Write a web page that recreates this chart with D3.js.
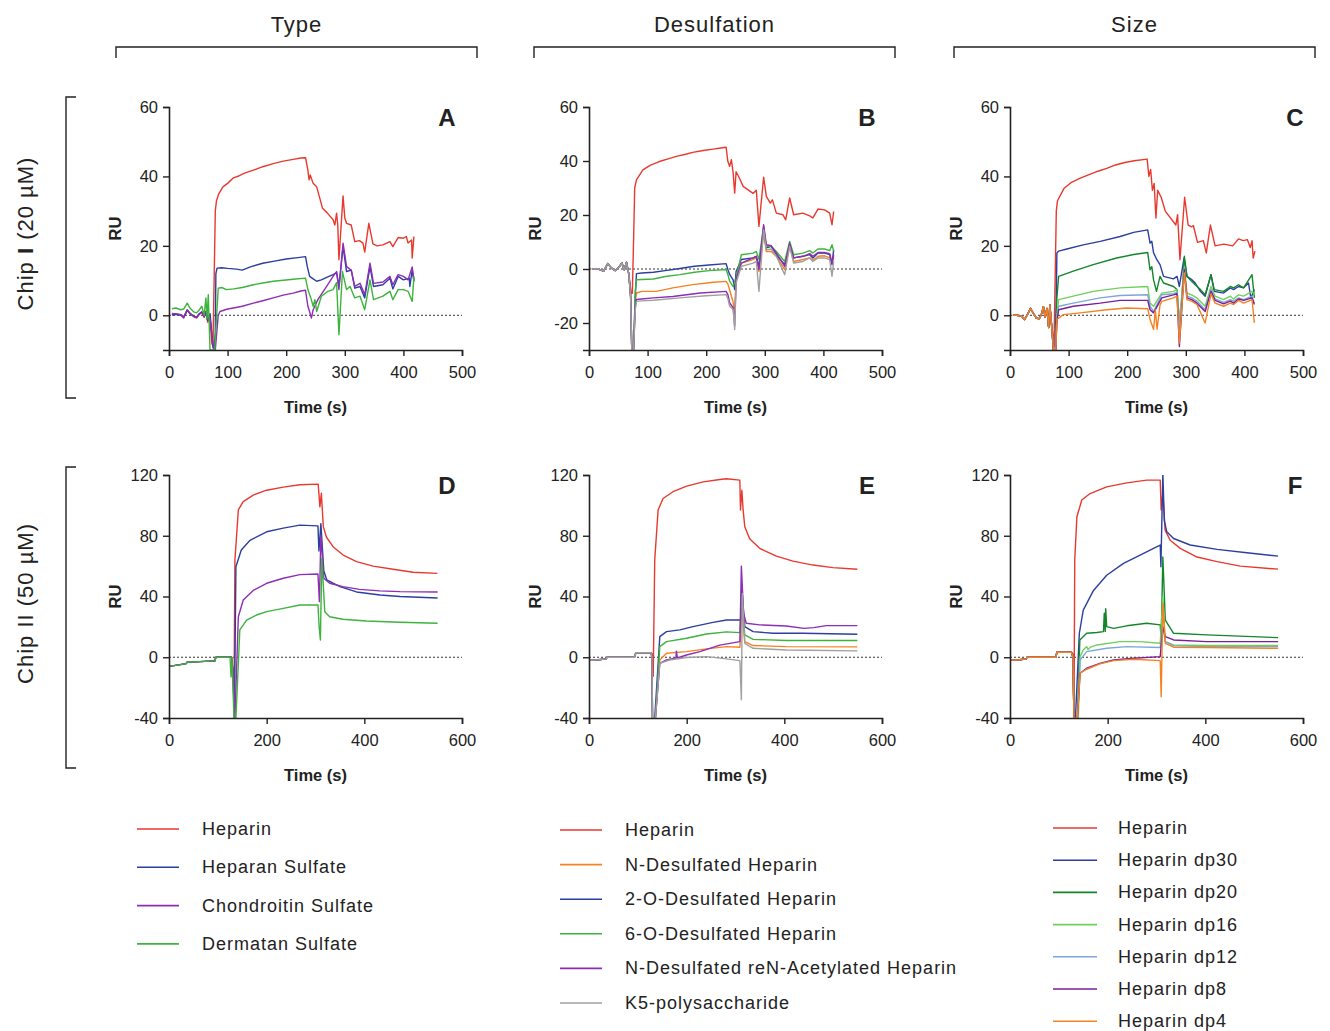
<!DOCTYPE html>
<html>
<head>
<meta charset="utf-8">
<script src="https://cdn.jsdelivr.net/npm/d3@7"></script>
<style>
  body { margin: 0; background: #fff; }
  text { font-family: Arial, "Liberation Sans", sans-serif; fill: #222; }
</style>
</head>
<body>
<svg id="chart" width="1330" height="1031"></svg>
<script>
// ---- legend names / colours ----
var typeNames = ["Heparin", "Heparan Sulfate", "Chondroitin Sulfate", "Dermatan Sulfate"];
var typeColors = ["#e8392f", "#2b3f9e", "#8e2db5", "#3cb43c"];
var desulfNames = ["Heparin", "N-Desulfated Heparin", "2-O-Desulfated Heparin", "6-O-Desulfated Heparin",
                   "N-Desulfated reN-Acetylated Heparin", "K5-polysaccharide"];
var desulfColors = ["#e8392f", "#f58220", "#2b3f9e", "#3cb43c", "#8e2db5", "#a0a0a0"];
var sizeNames = ["Heparin", "Heparin dp30", "Heparin dp20", "Heparin dp16", "Heparin dp12", "Heparin dp8", "Heparin dp4"];
var sizeColors = ["#e8392f", "#2b3f9e", "#14862a", "#6fd15a", "#7fa6d8", "#7a1e9c", "#f58220"];

// ---- tick labels ----
var xTicksTop = [0, 100, 200, 300, 400, 500];
var xTicksBottom = [0, 200, 400, 600];
var yTicksA = [0, 20, 40, 60];
var yTicksB = [-20, 0, 20, 40, 60];
var yTicksD = [-40, 0, 40, 80, 120];

// ---- Chip I, Type (A) : [time s, RU] ----
var A_hep = [[5,0.3],[12,0.4],[20,0.2],[25,-0.6],[31,1.6],[36,0.4],[42,-0.2],[47,-0.8],[52,0.4],[56,0.9],[60,-0.6],[63,1.2],[66,-2],[70,-0.8],[73,-8],[75,-9],[77,10],[79,30],[81,33],[85,35],[92,37],[100,38],[110,39.6],[120,40.2],[130,41],[144,41.8],[160,42.8],[178,43.7],[195,44.4],[212,44.9],[225,45.3],[233,45.4],[237,41.8],[239,39],[241,40.4],[246,38],[252,37],[262,30.8],[270,29.5],[280,27.5],[283,26],[286,29.4],[288,26],[290,16],[297,34.4],[300,28],[303,26.5],[311,26],[317,21.2],[325,21.5],[331,20.8],[334,18.2],[341,26.5],[348,20.6],[355,20],[365,20.3],[377,21.2],[382,19.8],[391,22.4],[400,22.2],[405,22.7],[408,20.8],[414,21.7],[415,16.5],[418,22.7]];
var A_hs = [[5,0.1],[12,0.3],[20,0],[25,-0.5],[31,1.5],[36,0.6],[42,-0.3],[47,-0.6],[52,0.5],[56,1],[60,-0.4],[63,1],[66,-1.5],[70,0.5],[72,-3],[75,-9],[77,-10],[79,-5],[80,12],[82,13.6],[90,13.7],[100,13.5],[115,13.3],[125,13],[140,14],[160,15],[180,15.6],[200,16.2],[220,16.6],[233,16.9],[236,14],[240,11.2],[246,10.5],[252,9.8],[260,10.2],[270,11],[280,11.7],[286,12.3],[290,8.3],[297,19.8],[303,12.6],[311,13],[317,7.8],[326,8.3],[334,5],[343,14],[349,8.3],[365,8.8],[377,10.7],[382,7.6],[391,11.2],[400,10.2],[410,10.7],[411,8.3],[415,13],[418,9.8]];
var A_cs = [[5,0.5],[12,0.4],[20,0.2],[25,-0.8],[31,1.4],[36,0.5],[42,-0.4],[47,-0.5],[52,0.3],[56,0.8],[60,-0.3],[63,1],[66,-0.5],[70,-1],[72,-4],[76,-10],[79,-10],[82,-4],[84,0],[87,1.1],[100,1.8],[110,2.1],[125,2.6],[144,3.5],[160,4.2],[178,5],[195,5.8],[212,6.4],[225,7],[233,7.2],[237,2.6],[240,1],[243,-0.8],[246,1.6],[254,4.5],[269,8.3],[280,11.2],[286,12.6],[290,7.4],[297,20.8],[303,14],[311,13],[317,8.3],[326,9.2],[334,5.9],[343,15],[349,9.2],[365,9.6],[377,11.2],[382,8.8],[391,11.7],[400,11.2],[408,10.2],[415,13.9],[418,10.2]];
var A_ds = [[5,1.9],[12,2.1],[20,1.6],[25,1.8],[31,3.5],[36,2],[42,1],[47,0.7],[52,1.6],[56,2.6],[60,0],[63,5],[65,-1],[67,5.9],[70,-10],[78,-10],[82,2],[84,7.8],[90,8],[98,7.4],[110,7.6],[125,8],[144,8.8],[160,9.3],[178,9.8],[195,10.1],[212,10.4],[233,10.7],[237,7.4],[242,5],[246,2.6],[249,4.5],[252,1.1],[260,5.5],[270,6.8],[280,7.4],[286,9.4],[290,-5.6],[296,12.6],[303,7.4],[309,8.3],[317,5],[326,5.5],[334,1.6],[343,10.2],[349,4.5],[365,5.5],[377,6.9],[382,4.5],[391,7.4],[400,7.4],[408,6.9],[415,4],[418,11.2]];

// ---- Chip I, Desulfation (B) ----
var B_base = [[5,0],[15,0.1],[25,-0.8],[32,2],[38,0.4],[45,-0.6],[52,0.9],[56,2.3],[60,-0.3],[64,2.5],[68,-2]];
var B_hep = B_base.concat([[72,-9],[74,-9],[76,10],[78,30],[81,33],[92,36.7],[105,38.5],[120,39.8],[135,40.8],[149,41.7],[165,42.5],[177,43.2],[195,43.9],[212,44.4],[225,44.8],[234,45.1],[237,39.8],[240,38],[243,40.5],[246,35.5],[248.6,28.1],[251,36],[257,33.5],[263,30.6],[280,28],[285.5,29.2],[290,15.8],[298,34],[302.6,26.9],[309.4,24.4],[313,25.6],[319.7,20.7],[331,20.1],[335.6,18.2],[342.4,26.3],[349.3,20.1],[365,20.7],[376.6,19.7],[382,18.9],[390.8,22.2],[402,21.9],[410.7,20.7],[414.7,16.4],[417.5,21.3]]);
var B_nd = B_base.concat([[71,-10],[73,-30],[76,-30],[79,-12],[81,-8.9],[90,-8.3],[115,-8.3],[143,-7],[177,-5.8],[212,-4.9],[234,-4.6],[237,-5.5],[240,-7.8],[246,-12.3],[248.6,-17.5],[251,-2.7],[260,2.2],[280,3.5],[285.5,4.1],[290,-0.9],[298,13.3],[302.6,6.5],[311,6.5],[319.7,4.7],[334,-0.2],[342.4,8.4],[349.3,2.8],[365,3.5],[376.6,4.1],[382,3.2],[390.8,4.7],[402,4.9],[410.7,4.1],[414.7,2.2],[417.5,4.7]]);
var B_2o = B_base.concat([[71,-10],[73,-30],[76,-30],[79,-10],[81,-1.7],[90,-1.5],[110,-1.2],[130,-0.6],[155,0.2],[180,1],[205,1.5],[234,2],[237,-0.2],[240,-2],[246,-4],[248.6,-7.6],[251,-0.9],[260,3.5],[280,4.1],[285.5,4.7],[290,1],[298,14.5],[302.6,7.8],[311,8.4],[319.7,5.3],[334,1.6],[342.4,9],[349.3,4.1],[365,4.7],[376.6,5.3],[382,4.1],[390.8,5.9],[402,5.9],[410.7,5.3],[414.7,1.6],[417.5,7.1]]);
var B_6o = B_base.concat([[71,-10],[73,-30],[76,-30],[79,-8],[81,-4],[90,-3.9],[110,-3.7],[130,-2.8],[155,-2.1],[180,-1.2],[205,-0.6],[234,-0.2],[237,-2],[240,-4.5],[246,-6.5],[251,-3.3],[260,5.3],[280,5.9],[285.5,6.5],[290,3.5],[298,15.8],[302.6,8.4],[311,8.4],[319.7,6.5],[334,2.8],[342.4,10.2],[349.3,5.3],[365,5.9],[376.6,6.8],[382,5.9],[390.8,7.4],[402,7.4],[410.7,6.8],[414.7,9],[417.5,6.5]]);
var B_rna = B_base.concat([[71,-10],[73,-30],[76,-30],[79,-14],[81,-11.3],[90,-11.1],[110,-10.7],[143,-10.2],[190,-8.9],[234,-8.3],[237,-9.5],[240,-12.5],[246,-14.4],[248.6,-21],[251,-3.9],[260,2.2],[280,4.1],[285.5,4.7],[290,-0.2],[298,16.4],[302.6,9],[311,8.6],[319.7,5.9],[334,1],[342.4,9.6],[349.3,4.1],[365,4.7],[376.6,5.7],[382,4.7],[390.8,6.1],[402,6.1],[410.7,5.7],[414.7,2.2],[417.5,5.3]]);
var B_k5 = B_base.concat([[71,-10],[73,-30],[76,-30],[79,-15],[81,-12],[90,-11.8],[110,-11.6],[155,-10.7],[200,-9.9],[234,-9.5],[237,-11],[240,-13.8],[246,-15],[248.6,-22.4],[251,-5.2],[260,1],[280,2.2],[285.5,2.8],[290,-8.3],[298,14.5],[302.6,7.1],[311,7.4],[319.7,4.7],[334,-2.1],[342.4,8.4],[349.3,2.2],[365,2.8],[376.6,4.1],[382,2.8],[390.8,4.1],[402,4.1],[410.7,3.5],[414.7,-2.7],[417.5,2.8]]);

// ---- Chip I, Size (C) ----
var C_base = [[5,0],[12,0],[20,-0.3],[25,-1.2],[30,0.3],[35,2],[40,0.5],[45,-0.8],[50,-1],[54,0.5],[57,2.5],[60,-0.5],[63,2],[66,-3.5],[68,3],[70,-1]];
var C_hep = C_base.concat([[72,-4],[75,-9],[77,10],[79,30],[81,33],[92,36.5],[105,38.3],[120,39.5],[135,40.5],[150,41.5],[165,42.3],[180,43.3],[196,44],[212,44.5],[234,45],[237,40],[240,42],[243,36],[246,38],[249,28],[252,36],[258,34],[265,30],[283,26],[286,29],[290,16],[298,34],[304,26],[310,25.5],[313,25.8],[320,21],[330,21.5],[335,18],[342,26],[350,20],[365,20.5],[380,20],[390,22],[398,21.5],[405,21.8],[410,19.5],[413,21.5],[415,16.5],[418,18.5]]);
var C_dp30 = C_base.concat([[72,-5],[74,-10],[77,-10],[79,5],[80,17.9],[83,18.5],[97,19.1],[125,20.3],[154,21.3],[188,22.7],[211,23.9],[235,24.6],[239,20.8],[242,21.3],[245,18],[250.6,16],[256,14.6],[262,11.2],[279,10.5],[285,11.2],[289,8.3],[297,16.5],[302,11.2],[310,10.3],[316,9.3],[325,6.9],[333,5.5],[343,11.7],[348.5,6.9],[364.5,6.4],[376,7.9],[381.5,7.4],[390,8.3],[398.6,7.9],[407,9.3],[411,5],[417,7.4]]);
var C_dp20 = C_base.concat([[72,-5],[74,-10],[78,-10],[80,5],[83,11.2],[108,12.7],[142,14.6],[182,16.5],[211,17.5],[235,18.1],[239,13.1],[242,14],[245,10.2],[250,6.9],[256,11.2],[262,9.3],[279,8.3],[285,7.4],[290,-4],[297.5,17],[302,11.2],[310,9.8],[316,8.8],[325,7.4],[333,5.9],[343,11.7],[348.5,7.4],[364.5,6.9],[376,8.3],[381.5,7.9],[390,8.8],[398.6,7.9],[413,11.7],[417,5]]);
var C_dp16 = C_base.concat([[72,-5],[74,-10],[78,-10],[80,0],[83,4.5],[108,5.5],[142,6.9],[188,7.9],[235,8.3],[239,3.5],[245,2.6],[259,6.4],[279,6.9],[285,7.4],[289,-2.2],[297.5,14],[302,6.4],[310,5.9],[319,5],[333,2.6],[343,8.3],[350,5.5],[364.5,4.5],[376,5.5],[381.5,4.7],[390,5.9],[398.6,5.5],[413,6.9],[417,5.9]]);
var C_dp12 = C_base.concat([[72,-5],[74,-10],[78,-10],[80,-1],[83,2.6],[108,3.5],[154,5],[188,5.7],[235,5.9],[239,2.6],[245,1.1],[259,5.9],[279,6.2],[285,6.6],[289,-4.1],[297.5,13.1],[302,5.5],[310,5],[319,4.1],[333,1.6],[343,7.4],[350,4.7],[364.5,3.7],[376,4.5],[381.5,4.1],[390,5],[398.6,4.5],[413,5.5],[417,3.5]]);
var C_dp8 = C_base.concat([[72,-5],[74,-10],[78,-10],[80,-2],[83,1.6],[108,2.6],[154,3.5],[188,4.3],[235,4.3],[239,1.6],[245,0.7],[259,5],[279,5.9],[285,6.2],[289,-9],[297.5,13.1],[302,5],[310,4.5],[319,3.5],[333,1.1],[343,6.9],[350,4.3],[364.5,3.3],[376,4.1],[381.5,3.5],[390,4.7],[398.6,4.3],[413,5],[417,3.1]]);
var C_dp4 = C_base.concat([[72,-5],[74,-10],[78,-10],[80,-1.2],[91,0.2],[120,0.7],[165,1.6],[199,2.1],[235,1.9],[239,-1.2],[245,-4.1],[248,1.6],[251,-4],[256,3],[259,4],[279,5],[285,5.5],[289,-8],[297.5,12.2],[302,4.5],[310,4.1],[319,3.1],[333,-2.2],[343,6.2],[350,3.5],[364.5,2.6],[376,3.5],[381.5,3.1],[390,4.3],[398.6,3.5],[413,4.5],[417,-2.2]]);

// ---- Chip II, Type (D) ----
var D_base = [[0,-6],[10,-5.5],[20,-5],[35,-4.2],[37,-3.3],[63,-2.9],[94,-2.4],[96,0],[123,0]];
var D_hep = D_base.concat([[128,0],[131,-10],[133,-32],[135,64],[142,97],[152,102.5],[172.5,106.8],[200,110],[234,112],[268,113.6],[305.5,114],[309,99],[312,108],[316,86],[322.5,79],[336,72.8],[356.6,67.3],[384,63],[418,60],[459,57.9],[500,56],[549.5,55.2]]);
var D_hs = D_base.concat([[128,0],[131,-10],[134,-40],[137,59.6],[148,70.6],[166,77],[200,82.6],[234,85],[268,87],[305,86.5],[307,70],[311,88],[317,57],[323,51],[350,46.5],[384,43],[432,41],[473,40],[550,39]]);
var D_cs = D_base.concat([[128,0],[132,-10],[135,-40],[142,26.7],[152,37.7],[172.5,44],[200,48.7],[234,52],[268,54.4],[305,54.8],[308,36.6],[311,80],[317,52],[329,48.7],[356,46.5],[390,44.7],[432,43.7],[473,43.2],[550,43]]);
var D_ds = D_base.concat([[125,0],[127,-13],[129,0],[133,-40],[137,-40],[145,18],[159,24.5],[179,27.8],[200,30],[234,32.2],[268,34.4],[305,34.4],[307.5,20],[310,11.4],[313,65],[319,30],[329,26.7],[356,25],[404,23.9],[473,23],[550,22.4]]);

// ---- Chip II, Desulfation (E) ----
var E_base = [[0,-2],[20,-1.6],[35,-1.1],[37,0],[93,0],[96,3],[127,3]];
var E_hep = E_base.concat([[130,2],[131.5,-12.5],[134.6,64],[141.5,97],[151.7,104.5],[172,109],[200,112.7],[233.8,115.5],[268,117],[281.6,117.5],[308.9,116.6],[310.2,97],[313,110],[315.6,97],[319,86],[329,78],[349.4,71.7],[383.6,66.6],[417.7,63.3],[458.7,60.7],[499.7,59],[549.5,57.9]]);
var E_nd = E_base.concat([[129,0],[130,-40],[136,-40],[145,-1.8],[158.7,2.6],[199.6,3.7],[240.5,5.5],[281.6,7],[309,6.6],[313,30],[319,10.3],[336,7.7],[404,7],[549.5,6.8]]);
var E_2o = E_base.concat([[129,0],[130,-40],[134.6,-40],[145,13.6],[158.7,16.9],[186,18],[213,20.2],[254,23],[281.6,24.5],[309,24.5],[311,25],[313,45],[319,20.2],[336,16.9],[377,15.8],[438,15.8],[549.5,15.1]]);
var E_6o = E_base.concat([[129,0],[130,-40],[136,-40],[145,7],[158.7,10.3],[199.6,12.5],[240.5,15.3],[281.6,16.7],[309,16.2],[313,40],[319,14.7],[336,11.8],[404,11],[549.5,11]]);
var E_rna = E_base.concat([[129,0],[130,-40],[136,-40],[145,-4],[158.7,-1.8],[178,-0.5],[179,4],[181,-0.5],[199.6,1.5],[227,3.7],[268,8],[309,10.3],[312,60],[316.5,29],[322,22.4],[349.4,21.3],[404,20.6],[440,19],[460,19.5],[486,20.8],[549.5,20.8]]);
var E_k5 = E_base.concat([[129,0],[130,-40],[136,-40],[145,-4],[165,-1.8],[199.6,-0.2],[240.5,0.4],[281.6,-1.1],[309,-2.2],[312,-28],[314,42],[319,9.2],[336,5.9],[404,4.8],[549.5,4.2]]);

// ---- Chip II, Size (F) ----
var F_base = [[0,-2],[20,-1.6],[33,-1.1],[35,0],[94,0],[96,3.3],[126,3.3]];
var F_hep = F_base.concat([[129,2],[131,-40],[132.6,64],[137,92.5],[147,103.5],[164,107.8],[198,112.2],[239,114.8],[280,116.6],[307.6,116.6],[309.6,97],[313,108],[317.7,83.7],[328,77],[348.6,71.7],[383,66],[424,63],[471.6,60],[549,58]]);
var F_dp30 = F_base.concat([[129,0],[131,-40],[134,-40],[142,15.8],[150,31],[171,44],[198,54],[232.4,61.8],[266.5,67.3],[294,71.7],[307.6,73.9],[309,59.6],[313,121],[316,90],[321,82.6],[335,78.2],[369,73.9],[424,71],[485,68.8],[549,66.6]]);
var F_dp20 = F_base.concat([[129,0],[131,-40],[138,-40],[143,11.4],[157,15.8],[177.7,16.3],[191.4,16.9],[193,29],[195,16.9],[196,32],[198,20.2],[212,19],[239,20.7],[280,22.4],[307.6,21.3],[309.6,11.4],[313,66],[318,24.5],[335,15.8],[403,14.7],[549,12.9]]);
var F_dp16 = F_base.concat([[129,0],[131,-40],[140,-40],[143.5,0.4],[150,4.8],[157,7],[160,5],[164,6.5],[177.7,8.1],[225,10.3],[266.5,10.3],[307.6,9.2],[313,40],[318,10.3],[335,8.1],[403,7.7],[549,7.7]]);
var F_dp12 = F_base.concat([[129,0],[131,-40],[138,-40],[143.5,-1.8],[157,3.7],[198,5.9],[239,7],[307.6,6.4],[313,20],[318,10.3],[335,7.5],[403,7],[549,7]]);
var F_dp8 = F_base.concat([[129,0],[131,-40],[138,-40],[143.5,-10.5],[157,-7.2],[184,-4],[212,-1.8],[253,-0.7],[307.6,0.4],[313,20],[318,13.6],[335,11.4],[403,10.3],[549,10.3]]);
var F_dp4 = F_base.concat([[129,0],[131,-40],[138,-40],[143.5,-10.5],[157,-7.9],[184,-4.4],[212,-2.2],[253,-1.3],[307.6,-2.2],[309.6,-26],[313,35.5],[318,9.2],[335,6.6],[403,6.4],[549,5.9]]);

var panels = [
  { letter: "A", col: 0, row: 0, xMax: 500, xTicks: xTicksTop, yDomain: [-10, 60], yTicks: yTicksA, colors: typeColors, series: [A_hep, A_hs, A_cs, A_ds] },
  { letter: "B", col: 1, row: 0, xMax: 500, xTicks: xTicksTop, yDomain: [-30, 60], yTicks: yTicksB, colors: desulfColors, series: [B_hep, B_nd, B_2o, B_6o, B_rna, B_k5] },
  { letter: "C", col: 2, row: 0, xMax: 500, xTicks: xTicksTop, yDomain: [-10, 60], yTicks: yTicksA, colors: sizeColors, series: [C_hep, C_dp30, C_dp20, C_dp16, C_dp12, C_dp8, C_dp4] },
  { letter: "D", col: 0, row: 1, xMax: 600, xTicks: xTicksBottom, yDomain: [-40, 120], yTicks: yTicksD, colors: typeColors, series: [D_hep, D_hs, D_cs, D_ds] },
  { letter: "E", col: 1, row: 1, xMax: 600, xTicks: xTicksBottom, yDomain: [-40, 120], yTicks: yTicksD, colors: desulfColors, series: [E_hep, E_nd, E_2o, E_6o, E_rna, E_k5] },
  { letter: "F", col: 2, row: 1, xMax: 600, xTicks: xTicksBottom, yDomain: [-40, 120], yTicks: yTicksD, colors: sizeColors, series: [F_hep, F_dp30, F_dp20, F_dp16, F_dp12, F_dp8, F_dp4] }
];

// layout
var colX = [169, 589, 1010];
var rowY = [107, 475];
var plotW = 293, plotH = 243;

var svg = d3.select("#chart");

panels.forEach(function(p, i) {
  var g = svg.append("g")
      .attr("transform", `translate(${colX[p.col]}, ${rowY[p.row]})`);

  var x = d3.scaleLinear().domain([0, p.xMax]).range([0, plotW]);
  var y = d3.scaleLinear().domain(p.yDomain).range([plotH, 0]);

  // clip so the injection spikes stop at the axis
  svg.append("clipPath").attr("id", "clip" + i)
    .append("rect").attr("x", 0).attr("y", 0).attr("width", plotW).attr("height", plotH);

  // dotted zero line
  g.append("line")
      .attr("x1", 0).attr("x2", plotW)
      .attr("y1", y(0)).attr("y2", y(0))
      .attr("stroke", "#333").attr("stroke-width", 1)
      .attr("stroke-dasharray", "2,2");

  var line = d3.line().x(d => x(d[0])).y(d => y(d[1]));

  var lines = g.append("g").attr("clip-path", `url(#clip${i})`);
  p.series.forEach(function(s, k) {
    lines.append("path")
        .datum(s)
        .attr("d", line)
        .attr("fill", "none")
        .attr("stroke", p.colors[k])
        .attr("stroke-width", 1.4)
        .attr("stroke-linejoin", "round");
  });

  // axes (plain hyphen for negatives, as in the figure)
  var fmt = d => String(d);
  var xAxis = d3.axisBottom(x).tickValues(p.xTicks).tickFormat(fmt).tickSizeOuter(0).tickSize(6).tickPadding(10);
  var yAxis = d3.axisLeft(y).tickValues(p.yTicks).tickFormat(fmt).tickSizeOuter(0).tickSize(6).tickPadding(5);

  var gx = g.append("g").attr("transform", `translate(0, ${plotH})`).call(xAxis);
  var gy = g.append("g").call(yAxis);
  [gx, gy].forEach(function(a) {
    a.select(".domain").attr("stroke", "#222").attr("stroke-width", 1.6);
    a.selectAll(".tick line").attr("stroke", "#222").attr("stroke-width", 1.4);
    a.selectAll(".tick text")
        .style("font-family", "Arial, 'Liberation Sans', sans-serif")
        .style("font-size", "16.5px")
        .attr("fill", "#222");
  });

  // axis titles
  g.append("text")
      .attr("x", plotW / 2).attr("y", plotH + 63)
      .attr("text-anchor", "middle")
      .style("font-size", "16.5px").style("font-weight", "bold")
      .text("Time (s)");

  g.append("text")
      .attr("transform", `translate(-48, ${plotH / 2}) rotate(-90)`)
      .attr("text-anchor", "middle")
      .style("font-size", "16.5px").style("font-weight", "bold")
      .text("RU");

  // panel letter
  g.append("text")
      .attr("x", p.col === 2 ? 285 : 278).attr("y", 19)
      .attr("text-anchor", "middle")
      .style("font-size", "24px").style("font-weight", "bold")
      .text(p.letter);
});

// column headers with brackets
var headers = ["Type", "Desulfation", "Size"];
var headerLeft = [116, 534, 954];
headers.forEach(function(h, i) {
  var x0 = headerLeft[i], x1 = x0 + 361;
  svg.append("text")
      .attr("x", (x0 + x1) / 2).attr("y", 32)
      .attr("text-anchor", "middle")
      .style("font-size", "22px").style("letter-spacing", "1px")
      .text(h);
  svg.append("path")
      .attr("d", `M${x0},58V47H${x1}V58`)
      .attr("fill", "none").attr("stroke", "#222").attr("stroke-width", 1.4);
});

// row labels with brackets
var rowLabels = [
  { pre: "Chip ", bold: "I", post: " (20 \u00b5M)" },
  { pre: "Chip ", bold: "II", post: " (50 \u00b5M)" }
];
var rowTop = [97, 467];
rowLabels.forEach(function(r, i) {
  var y0 = rowTop[i], y1 = y0 + 301;
  var t = svg.append("text")
      .attr("transform", `translate(33, ${(y0 + y1) / 2 - 14}) rotate(-90)`)
      .attr("text-anchor", "middle")
      .style("font-size", "22px").style("letter-spacing", "1px");
  t.append("tspan").text(r.pre);
  t.append("tspan").style("font-weight", i === 0 ? "bold" : "normal").text(r.bold);
  t.append("tspan").text(r.post);
  svg.append("path")
      .attr("d", `M76,${y0}H66V${y1}H76`)
      .attr("fill", "none").attr("stroke", "#222").attr("stroke-width", 1.4);
});

// legends
var legends = [
  { names: typeNames, colors: typeColors, x: 137, y0: 829, dy: 38.3, len: 42 },
  { names: desulfNames, colors: desulfColors, x: 560, y0: 830, dy: 34.6, len: 42 },
  { names: sizeNames, colors: sizeColors, x: 1053, y0: 828, dy: 32.2, len: 44 }
];
legends.forEach(function(L) {
  var lg = svg.append("g");
  L.names.forEach(function(n, k) {
    var yy = L.y0 + k * L.dy;
    lg.append("line")
        .attr("x1", L.x).attr("x2", L.x + L.len)
        .attr("y1", yy).attr("y2", yy)
        .attr("stroke", L.colors[k]).attr("stroke-width", 1.6);
    lg.append("text")
        .attr("x", L.x + 65).attr("y", yy + 6)
        .style("font-size", "18px").style("letter-spacing", "1px")
        .text(n);
  });
});
</script>
</body>
</html>
